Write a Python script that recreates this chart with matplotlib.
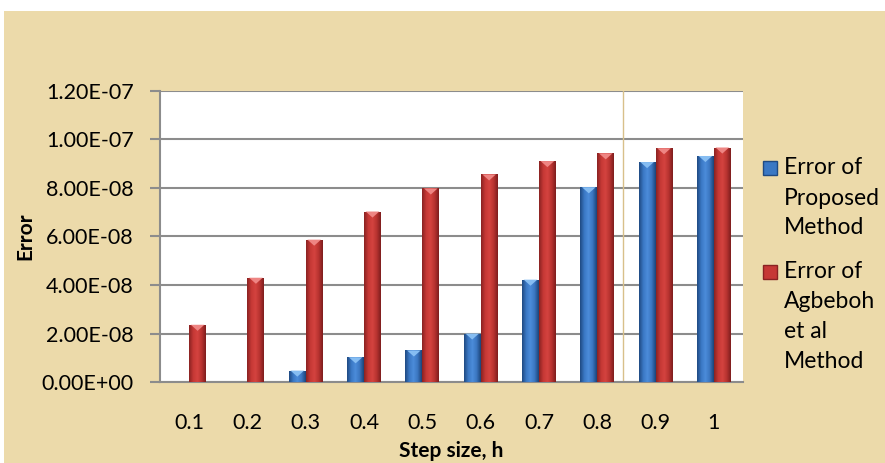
import matplotlib.pyplot as plt
import numpy as np
from matplotlib.colors import LinearSegmentedColormap
from matplotlib.patches import Polygon, Rectangle

step_sizes = ['0.1', '0.2', '0.3', '0.4', '0.5', '0.6', '0.7', '0.8', '0.9', '1']
err_proposed = [0.0, 0.0, 0.47e-8, 1.02e-8, 1.3e-8, 2.0e-8, 4.22e-8, 8.03e-8, 9.07e-8, 9.32e-8]
err_agbeboh = [2.36e-8, 4.3e-8, 5.87e-8, 7.03e-8, 7.98e-8, 8.56e-8, 9.11e-8, 9.43e-8, 9.64e-8, 9.67e-8]
y_ticks = [0, 2e-8, 4e-8, 6e-8, 8e-8, 10e-8, 12e-8]
y_labels = ['0.00E+00', '2.00E-08', '4.00E-08', '6.00E-08', '8.00E-08', '1.00E-07', '1.20E-07']
legend_labels = [['Error of', 'Proposed', 'Method'], ['Error of', 'Agbeboh', 'et al', 'Method']]

plt.rcParams['font.family'] = ['Lato', 'DejaVu Sans']
FS = 15.5

fig = plt.figure(figsize=(8.85, 4.63), dpi=100)
fig.patch.set_facecolor('white')
# parchment background
fig.patches.append(Rectangle((4 / 885, 0), 1, 1 - 11 / 463, transform=fig.transFigure,
                             facecolor='#ecdaaa', edgecolor='none', zorder=-10))

ax = fig.add_axes([160 / 885, 1 - 382 / 463, 583 / 885, 291 / 463])
ax.set_facecolor('white')

x = np.arange(len(step_sizes)) + 0.5
w = 0.29

blue_cmap = LinearSegmentedColormap.from_list('b', ['#1f4a82', '#3a78c4', '#4c8cda', '#3b76c0', '#1c4479'])
red_cmap = LinearSegmentedColormap.from_list('r', ['#8a2222', '#c63835', '#d4433f', '#b83330', '#7e1e1e'])
grad = np.linspace(0, 1, 64).reshape(1, -1)

bars_b = ax.bar(x - w / 2, err_proposed, w, color='#3a74bd', zorder=3)
bars_r = ax.bar(x + w / 2, err_agbeboh, w, color='#c0392b', zorder=3)

tri_h = 0.25e-8
for bars, cmap, tip in [(bars_b, blue_cmap, '#86bdf2'), (bars_r, red_cmap, '#ee8583')]:
    for p in bars:
        h = p.get_height()
        if h <= 0:
            p.set_visible(False)
            continue
        x0, wd = p.get_x(), p.get_width()
        p.set_facecolor('none')
        im = ax.imshow(grad, cmap=cmap, aspect='auto', extent=(x0, x0 + wd, 0, h), zorder=3)
        im.set_clip_path(p)
        ax.add_patch(Polygon([(x0 + wd * 0.1, h), (x0 + wd * 0.9, h), (x0 + wd * 0.5, h - tri_h)],
                             closed=True, facecolor=tip, edgecolor='none', zorder=4))

ax.set_xlim(0, len(step_sizes))
ax.set_ylim(0, 12e-8)
ax.set_xticks(x)
ax.set_xticklabels(step_sizes, fontsize=FS)
ax.set_yticks(y_ticks)
ax.set_yticklabels(y_labels, fontsize=FS)
ax.tick_params(axis='x', length=0, pad=22)
ax.tick_params(axis='y', length=7, width=1.5, color='#8c8c8c', pad=12)

ax.grid(axis='y', color='#8c8c8c', lw=1.5, zorder=1)
ax.set_axisbelow(True)
ax.axvline(7.94, color='#d8c08a', lw=1, zorder=2)

for s in ['top', 'right']:
    ax.spines[s].set_visible(False)
for s in ['left', 'bottom']:
    ax.spines[s].set_color('#8c8c8c')
    ax.spines[s].set_linewidth(1.5)

ax.set_xlabel('Step size, h', fontsize=15, fontweight='bold', labelpad=6)
ax.set_ylabel('Error', fontsize=15, fontweight='bold', va='center')
ax.yaxis.set_label_coords(-135 / 583, 0.5)

# legend drawn by hand: marker sits beside the first line of each entry
W, H = 885, 463
entries = [(168, '#3a78c4', '#1f4a82'), (272, '#c63835', '#8a2222')]
for (y0, fc, ec), lines in zip(entries, legend_labels):
    fig.patches.append(Rectangle((763 / W, 1 - (y0 + 7) / H), 14 / W, 14 / H, transform=fig.transFigure,
                                 facecolor=fc, edgecolor=ec, lw=1))
    for i, line in enumerate(lines):
        fig.text(784 / W, 1 - (y0 + 30 * i) / H, line, fontsize=16.5, va='center', ha='left')

fig.savefig('out.png', dpi=100)
